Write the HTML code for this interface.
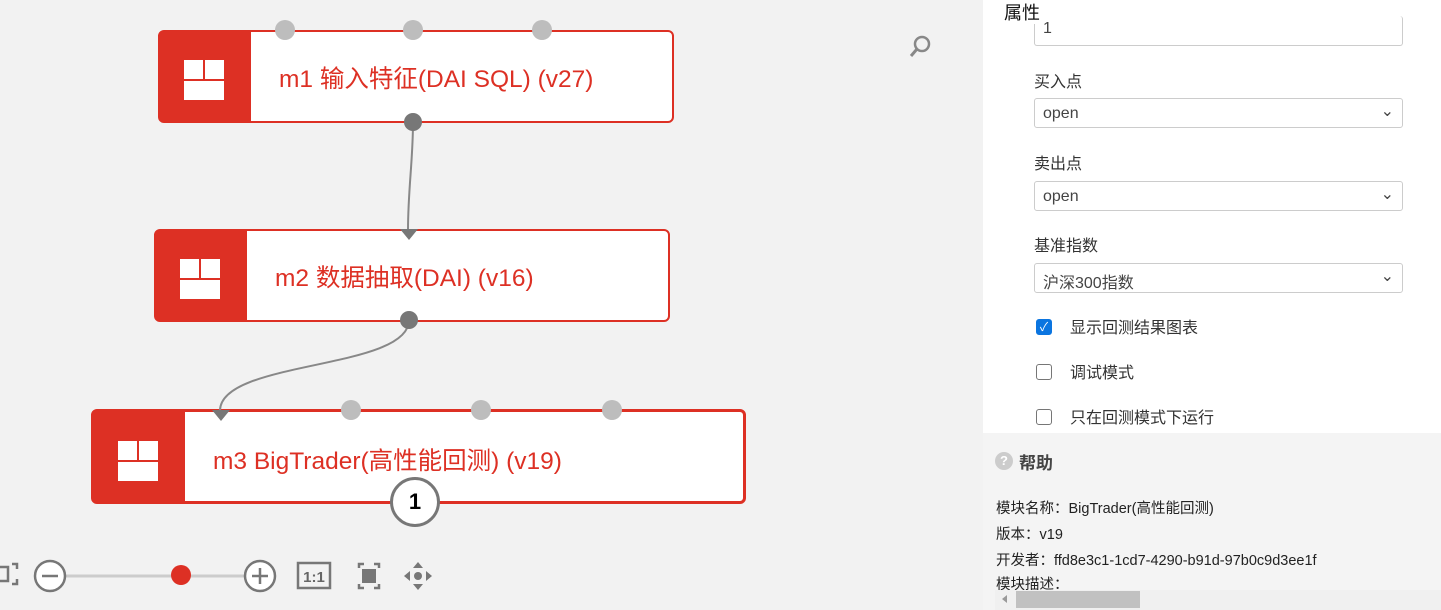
<!DOCTYPE html>
<html><head><meta charset="utf-8"><style>
body{margin:0;width:1441px;height:610px;overflow:hidden;background:#f2f2f2;font-family:"Liberation Sans","Noto Sans CJK SC",sans-serif;position:relative}
.abs{position:absolute}
.node{position:absolute;background:#fff;border:2px solid #dd3024;border-radius:6px;box-sizing:border-box}
.node .ic{position:absolute;left:0;top:0;bottom:0;background:#dd3024}
.node .t{position:absolute;font-size:24.5px;color:#dd3024;white-space:nowrap}
.grid{position:absolute;width:40px;height:40px}
.grid div{position:absolute;background:#fff}
.port{position:absolute;width:20px;height:20px;border-radius:50%;background:#bdbdbd}
.sel{position:absolute;left:1034px;width:369px;height:30px;border:1px solid #ccc;border-radius:3px;background:#fff;font-size:16px;color:#444;box-sizing:border-box;padding:6px 8px}
.lab{position:absolute;left:1034px;font-size:16px;color:#333}
.cb{position:absolute;left:1036px;width:14px;height:14px;border:1px solid #767676;border-radius:3px;background:#fff}
.help{position:absolute;left:996px;font-size:14.5px;color:#222}
</style></head><body>
<div class="node" style="left:158px;top:30px;width:516px;height:93px"><div class="ic" style="width:91px"><div class="grid" style="left:24px;top:28px"><div style="left:0;top:0;width:19px;height:19px"></div><div style="left:21px;top:0;width:19px;height:19px"></div><div style="left:0;top:21px;width:40px;height:19px"></div></div></div><div class="t" style="left:119px;top:28px">m1 输入特征(DAI SQL) (v27)</div></div>
<div class="node" style="left:154px;top:229px;width:516px;height:93px"><div class="ic" style="width:91px"><div class="grid" style="left:24px;top:28px"><div style="left:0;top:0;width:19px;height:19px"></div><div style="left:21px;top:0;width:19px;height:19px"></div><div style="left:0;top:21px;width:40px;height:19px"></div></div></div><div class="t" style="left:119px;top:28px">m2 数据抽取(DAI) (v16)</div></div>
<div class="node" style="left:91px;top:409px;width:655px;height:95px;border-width:3px"><div class="ic" style="width:91px"><div class="grid" style="left:24px;top:29px"><div style="left:0;top:0;width:19px;height:19px"></div><div style="left:21px;top:0;width:19px;height:19px"></div><div style="left:0;top:21px;width:40px;height:19px"></div></div></div><div class="t" style="left:119px;top:30px">m3 BigTrader(高性能回测) (v19)</div></div>
<div class="port" style="left:275px;top:20px"></div>
<div class="port" style="left:403px;top:20px"></div>
<div class="port" style="left:532px;top:20px"></div>
<div class="port" style="left:341px;top:400px"></div>
<div class="port" style="left:471px;top:400px"></div>
<div class="port" style="left:602px;top:400px"></div>
<svg class="abs" style="left:0;top:0" width="980" height="610">
<path d="M413 122 C413 160 408 190 408 230" stroke="#888" stroke-width="2" fill="none"/>
<path d="M409 320 C409 370 222 360 220 410" stroke="#888" stroke-width="2" fill="none"/>
<polygon points="400,229 418,229 409,240" fill="#777"/>
<polygon points="212,410 230,410 221,421" fill="#777"/>
<circle cx="413" cy="122" r="9" fill="#777"/>
<circle cx="409" cy="320" r="9" fill="#777"/>
<circle cx="922" cy="44" r="7" fill="none" stroke="#888" stroke-width="2.5"/>
<line x1="917" y1="49" x2="911" y2="56" stroke="#888" stroke-width="3"/>
</svg>
<div class="abs" style="left:392px;top:479px;width:44px;height:44px;border:3px solid #777;border-radius:50%;background:#fff;font:bold 22px 'Liberation Sans';text-align:center;line-height:44px;box-sizing:content-box;margin:-2px">1</div>
<svg class="abs" style="left:0;top:550px" width="450" height="50">
<path d="M0 17 H8 V31 H0 M12 14 H17 V19 M12 34 H17 V29" stroke="#777" stroke-width="2.5" fill="none"/>
<line x1="66" y1="26" x2="244" y2="26" stroke="#ccc" stroke-width="3"/>
<circle cx="50" cy="26" r="15" fill="#fff" stroke="#777" stroke-width="2.5"/><line x1="42" y1="26" x2="58" y2="26" stroke="#777" stroke-width="2.5"/>
<circle cx="181" cy="25" r="10" fill="#dd3024"/>
<circle cx="260" cy="26" r="15" fill="#fff" stroke="#777" stroke-width="2.5"/><line x1="252" y1="26" x2="268" y2="26" stroke="#777" stroke-width="2.5"/><line x1="260" y1="18" x2="260" y2="34" stroke="#777" stroke-width="2.5"/>
<rect x="298" y="13" width="32" height="25" fill="none" stroke="#777" stroke-width="2.5"/>
<text x="314" y="32" text-anchor="middle" font-family="Liberation Sans" font-weight="bold" font-size="15" fill="#666">1:1</text>
<path d="M359 18 V14 H364 M374 14 H379 V18 M359 34 V38 H364 M374 38 H379 V34" stroke="#777" stroke-width="2.5" fill="none"/>
<rect x="362" y="19" width="14" height="14" fill="#777"/>
<circle cx="418" cy="26" r="4" fill="#777"/>
<polygon points="418,12 413,18 423,18" fill="#777"/><polygon points="418,40 413,34 423,34" fill="#777"/><polygon points="404,26 410,21 410,31" fill="#777"/><polygon points="432,26 426,21 426,31" fill="#777"/>
</svg>
<div class="abs" style="left:983px;top:0;width:458px;height:433px;background:#fff"></div>
<div class="abs" style="left:983px;top:433px;width:458px;height:177px;background:#f4f4f4"></div>
<div class="sel" style="top:16px;height:30px;border-top:none;padding-top:4px">1</div>
<div class="abs" style="left:1004px;top:2px;font-size:18px;color:#111;background:#fff;line-height:22px">属性</div>
<div class="lab" style="top:68px">买入点</div>
<div class="sel" style="top:98px">open<span style="position:absolute;right:8px;top:2px;color:#444">⌄</span></div>
<div class="lab" style="top:150px">卖出点</div>
<div class="sel" style="top:181px">open<span style="position:absolute;right:8px;top:2px;color:#444">⌄</span></div>
<div class="lab" style="top:232px">基准指数</div>
<div class="sel" style="top:263px;padding-top:5px">沪深300指数<span style="position:absolute;right:8px;top:2px;color:#444">⌄</span></div>
<div class="cb" style="top:319px;background:#0b75e0;border-color:#0b75e0;color:#fff;font-size:12px;line-height:14px;text-align:center">✓</div>
<div class="lab" style="left:1070px;top:314px">显示回测结果图表</div>
<div class="cb" style="top:364px"></div>
<div class="lab" style="left:1070px;top:359px">调试模式</div>
<div class="cb" style="top:409px"></div>
<div class="lab" style="left:1070px;top:404px">只在回测模式下运行</div>
<div class="abs" style="left:995px;top:452px;width:18px;height:18px;border-radius:50%;background:#ccc;color:#fff;font:bold 13px 'Liberation Sans';text-align:center;line-height:18px">?</div>
<div class="abs" style="left:1019px;top:449px;font-size:17px;font-weight:bold;color:#444">帮助</div>
<div class="help" style="top:497px">模块名称：BigTrader(高性能回测)</div>
<div class="help" style="top:523px">版本：v19</div>
<div class="help" style="top:549px">开发者：ffd8e3c1-1cd7-4290-b91d-97b0c9d3ee1f</div>
<div class="help" style="top:573px;height:17px;overflow:hidden">模块描述：</div>
<div class="abs" style="left:995px;top:590px;width:446px;height:20px;background:#f0f0f0"></div>
<div class="abs" style="left:1016px;top:591px;width:124px;height:17px;background:#c1c1c1"></div>
<div class="abs" style="left:1002px;top:595px;width:0;height:0;border:4px solid transparent;border-right:5px solid #999;border-left:none"></div>
</body></html>
